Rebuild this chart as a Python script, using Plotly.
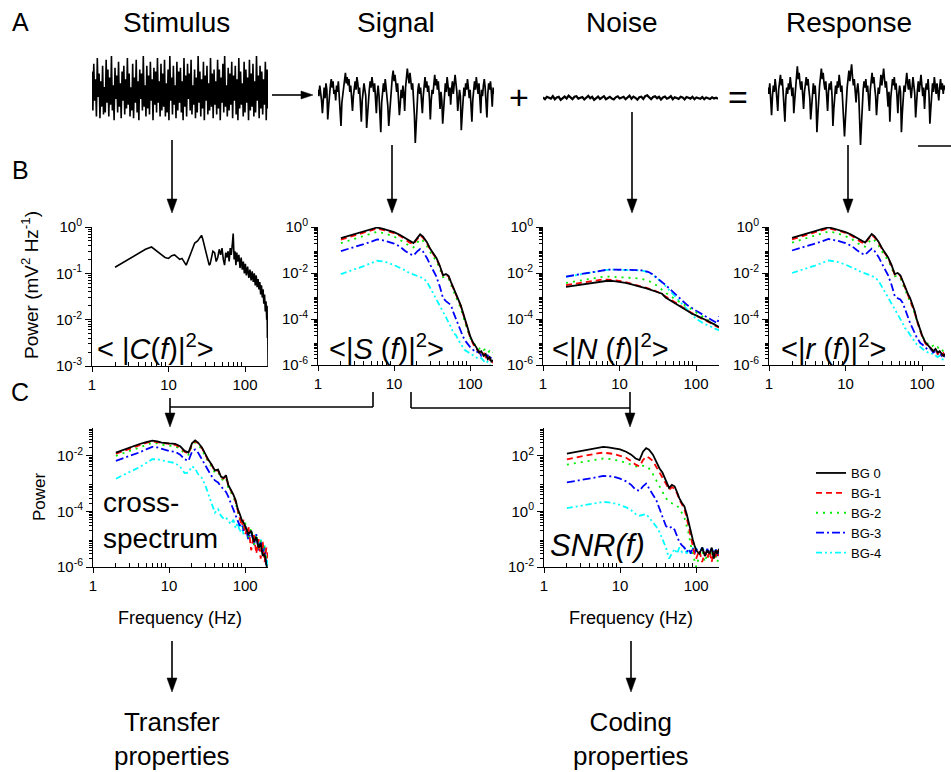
import plotly.graph_objects as go

W, H = 951, 772
def X(p): return p / W
def Y(p): return 1 - p / H

# ---------------- DATA ----------------
LABELS = ["BG 0", "BG-1", "BG-2", "BG-3", "BG-4"]

STIMULUS_TRACE = [
 0.55,-0.45,0.75,-0.2,0.35,-0.6,0.9,-0.1,0.5,-0.65,0.3,-0.35,0.7,-0.55,0.15,-0.5,0.85,-0.25,0.6,-0.6,
 0.4,-0.3,0.95,-0.45,0.2,-0.7,0.65,-0.15,0.45,-0.5,0.8,-0.35,0.25,-0.65,0.55,-0.2,0.7,-0.55,0.35,-0.4,
 0.9,-0.3,0.5,-0.6,0.15,-0.45,0.75,-0.65,0.4,-0.25,0.85,-0.5,0.3,-0.7,0.6,-0.15,0.5,-0.45,0.95,-0.35,
 0.2,-0.6,0.7,-0.4,0.45,-0.55,0.8,-0.2,0.35,-0.7,0.65,-0.3,0.55,-0.5,0.9,-0.25,0.3,-0.6,0.75,-0.45,
 0.5,-0.35,0.85,-0.6,0.25,-0.5,0.6,-0.7,0.95,-0.2,0.4,-0.55,0.7,-0.3,0.2,-0.65,0.8,-0.45,0.55,-0.25,
 0.65,-0.5,0.3,-0.7,0.9,-0.35,0.45,-0.6,0.75,-0.15,0.5,-0.45,0.85,-0.55,0.2,-0.3,0.6,-0.65,0.4,-0.5,
 0.95,-0.25,0.55,-0.6,0.35,-0.4,0.8,-0.7,0.45,-0.2,0.7,-0.55,0.25,-0.45,0.9,-0.35,0.5,-0.65,0.6,-0.3,
 0.3,-0.55,0.85,-0.4,0.6,-0.7,0.4,-0.25,0.75,-0.5,0.95,-0.35,0.2,-0.6,0.65,-0.45,0.5,-0.3,0.8,-0.65,
 0.45,-0.2,0.7,-0.55,0.35,-0.7,0.9,-0.4,0.55,-0.3,0.25,-0.6,0.8,-0.5,0.6,-0.25,0.4,-0.7,0.85,-0.45,
 0.5,-0.35,0.75,-0.6,0.3,-0.5,0.95,-0.2,0.45,-0.65,0.7,-0.4,0.55,-0.55,0.35,-0.3,0.8,-0.7,0.6,-0.4]

SIGNAL_TRACE = [
 0.30,0.15,0.40,0.25,0.05,-0.25,0.20,0.35,0.10,0.45,0.30,-0.40,-0.10,0.25,0.40,0.55,0.35,0.50,0.20,0.30,
 0.05,0.40,0.25,0.50,0.15,-0.30,-0.55,0.00,0.20,0.35,0.55,0.70,0.45,0.60,0.40,0.55,0.25,0.40,0.10,-0.20,
 0.15,0.35,0.50,0.30,0.60,0.45,0.20,0.35,-0.15,-0.45,0.05,0.25,0.45,0.30,0.15,-0.60,-0.20,0.10,0.30,0.50,
 0.35,0.60,0.40,0.25,0.45,0.10,-0.25,0.20,0.40,0.15,-0.35,-0.70,0.00,0.30,0.45,0.25,0.55,0.35,0.15,-0.10,
 -0.55,-0.25,0.20,0.40,0.60,0.75,0.50,0.65,0.40,0.25,0.45,0.15,-0.30,-0.05,0.30,0.10,0.40,0.20,-0.20,0.35,
 0.55,0.80,0.60,0.45,0.70,0.50,0.30,0.45,0.15,-0.30,-0.95,-0.50,0.10,0.30,0.45,0.20,0.35,0.05,-0.25,0.15,
 0.40,0.60,0.35,0.50,0.25,0.40,0.10,-0.40,0.05,0.30,0.20,0.45,0.65,0.40,0.55,0.30,0.50,0.20,-0.15,0.25,
 0.05,-0.50,-0.20,0.30,0.45,0.25,0.60,0.40,0.15,0.35,-0.05,0.30,0.50,0.20,0.40,0.65,0.45,0.25,-0.20,0.10,
 0.30,0.15,-0.65,-0.30,0.20,0.35,0.15,0.45,0.30,0.55,0.35,0.10,0.30,-0.10,-0.45,0.05,0.35,0.50,0.30,0.60,
 0.40,0.20,0.45,0.10,-0.25,0.30,0.15,0.40,0.55,0.35,0.10,-0.35,0.20,0.45,0.30,0.50,0.25,-0.10,0.35,0.20]

NOISE_TRACE = [
 0.05,-0.1,0.1,0.0,-0.05,0.15,-0.1,0.05,0.1,-0.15,0.0,0.12,-0.05,0.2,0.05,-0.1,0.1,0.15,-0.05,0.0,
 0.08,-0.12,0.05,0.18,-0.02,0.1,-0.15,0.0,0.12,-0.08,0.04,0.15,-0.1,0.02,0.1,-0.05,-0.12,0.06,0.14,-0.04,
 0.0,0.1,-0.1,0.08,0.2,-0.06,0.12,0.02,-0.14,0.06,0.1,-0.08,0.16,0.22,0.04,-0.1,0.08,0.14,-0.02,0.1,
 -0.12,0.05,0.12,-0.06,0.02,0.15,-0.1,0.06,0.0,-0.08,0.1,0.04,-0.12,0.08,0.02,-0.05,0.1,-0.1,0.05,0.0,
 -0.06,0.08,-0.1,0.04,0.0,-0.08,0.06,-0.04,0.02,-0.06]

RESPONSE_TRACE = [
 0.35,0.20,0.45,0.10,-0.30,0.15,0.40,0.25,0.55,0.35,0.10,-0.20,0.30,0.50,0.65,0.40,0.55,0.25,-0.05,-0.45,
 0.10,0.35,0.20,0.45,0.30,0.60,0.40,0.15,0.35,-0.25,0.05,0.40,0.65,0.85,0.55,0.70,0.45,0.30,0.50,0.20,
 -0.15,0.25,0.45,0.60,0.40,0.55,0.30,0.10,-0.40,-0.10,0.30,0.45,0.20,0.40,0.05,-0.70,-0.30,0.15,0.40,0.60,
 0.80,0.55,0.70,0.45,0.30,0.50,0.20,-0.20,0.25,0.45,0.30,0.50,0.15,-0.55,-0.15,0.25,0.40,0.20,0.50,0.35,
 0.65,0.45,0.25,0.40,0.05,-0.35,-0.80,-0.40,0.15,0.35,0.55,0.75,0.50,0.65,0.90,0.60,0.40,0.55,0.25,0.00,
 0.30,0.45,0.20,-0.30,-1.00,-0.55,0.05,0.30,0.50,0.35,0.55,0.25,0.40,0.10,-0.20,0.30,0.50,0.70,0.45,0.60,
 0.35,0.15,-0.30,0.10,0.35,0.20,0.45,0.65,0.40,0.55,0.80,0.55,0.35,0.50,0.20,-0.10,0.25,-0.45,0.10,0.35,
 0.55,0.40,0.60,0.30,0.45,0.15,-0.25,0.20,0.40,0.25,-0.70,-0.25,0.20,0.40,0.25,0.50,0.70,0.45,0.30,0.55,
 0.35,0.10,0.35,0.60,0.40,0.20,-0.35,0.05,0.30,0.50,0.25,0.45,0.65,0.40,0.15,0.35,-0.15,0.25,0.45,0.30,
 0.55,0.20,-0.50,-0.15,0.30,0.45,0.25,0.60,0.40,0.20,0.45,0.25,0.05,0.35,0.55,0.30,0.45,0.20,0.40,0.30]

STIM_FREQ = [2,3,4,5,6,7,8,9,10,11,12,13,14,15,16,17,18,20,22,24,26,27,28,30,32,34,35,37,38,40,
             42,44,46,48,50,52,54,56,58,60,62,64,66,68,70,72,74,76,78,80,83,86,89,92,95,98,101,104,
             108,112,116,120,124,128,132,136,140,144,148,152,156,160,164,168,172,176,180,184,188,
             192,194,196,198,200]
STIM_POWER = [0.135,0.2,0.27,0.33,0.37,0.3,0.25,0.22,0.21,0.24,0.25,0.22,0.2,0.21,0.17,0.15,0.19,
              0.3,0.45,0.5,0.62,0.66,0.55,0.35,0.2,0.15,0.16,0.25,0.3,0.28,0.18,0.22,0.33,0.25,
              0.35,0.2,0.15,0.28,0.22,0.3,0.18,0.35,0.25,0.4,0.72,0.2,0.3,0.15,0.28,0.18,0.25,0.13,
              0.22,0.12,0.18,0.1,0.16,0.09,0.14,0.08,0.12,0.07,0.11,0.065,0.1,0.055,0.09,0.05,
              0.075,0.045,0.065,0.035,0.055,0.03,0.045,0.022,0.035,0.015,0.025,0.01,0.02,0.004,
              0.008,0.0009]

FREQ = [2,3,4,5,6,7,8,10,12,14,16,18,20,22,24,27,30,33,36,40,44,48,52,56,60,65,70,75,80,85,90,95,
        100,110,120,130,140,150,160,170,180,190,200]

SIGNAL_BG0 = [0.33,0.5,0.65,0.8,0.95,0.85,0.75,0.6,0.45,0.32,0.24,0.2,0.32,0.48,0.38,0.22,0.11,0.07,
              0.045,0.02,0.008,0.009,0.0075,0.004,0.0022,0.0012,7e-4,4e-4,2e-4,9e-5,5e-5,3e-5,1.8e-5,
              9e-6,6e-6,3.5e-6,4e-6,2.5e-6,3e-6,1.8e-6,2.2e-6,1.4e-6,1.6e-6]
SIGNAL_BG1 = [0.28,0.44,0.58,0.72,0.85,0.78,0.68,0.54,0.41,0.29,0.21,0.18,0.29,0.44,0.34,0.2,0.1,
              0.065,0.042,0.019,0.0078,0.0085,0.007,0.0038,0.0021,0.0011,6.5e-4,3.8e-4,1.9e-4,8.5e-5,
              4.5e-5,2.8e-5,1.6e-5,8e-6,5e-6,4e-6,3e-6,3.5e-6,2.2e-6,2.8e-6,1.6e-6,2e-6,1.2e-6]
SIGNAL_BG2 = [0.2,0.3,0.4,0.5,0.62,0.56,0.5,0.38,0.28,0.2,0.15,0.13,0.2,0.3,0.25,0.15,0.08,0.05,0.032,
              0.015,0.0065,0.007,0.0055,0.003,0.0016,9e-4,5e-4,3e-4,1.5e-4,7e-5,4e-5,2.5e-5,1.5e-5,
              9e-6,7e-6,5e-6,6e-6,4.5e-6,5e-6,3.5e-6,4e-6,3e-6,3.5e-6]
SIGNAL_BG3 = [0.09,0.13,0.18,0.23,0.29,0.27,0.24,0.19,0.14,0.09,0.068,0.058,0.085,0.11,0.085,0.045,
              0.022,0.012,0.007,0.0025,8e-4,6e-4,5e-4,4e-4,2e-4,1e-4,5e-5,3e-5,1.8e-5,1.2e-5,9e-6,
              7e-6,6e-6,4.5e-6,3.5e-6,4e-6,2.5e-6,3e-6,2.2e-6,2.6e-6,1.8e-6,2.2e-6,1.5e-6]
SIGNAL_BG4 = [0.009,0.014,0.02,0.027,0.034,0.032,0.029,0.022,0.017,0.013,0.01,0.0085,0.0078,0.0068,
              0.006,0.0042,0.0022,0.0013,8e-4,4e-4,2e-4,1.2e-4,7e-5,4.5e-5,2.5e-5,2e-5,1.2e-5,8e-6,
              6e-6,4.5e-6,4e-6,3.5e-6,3.2e-6,2.5e-6,2.2e-6,1.8e-6,2e-6,1.5e-6,1.2e-6,1.4e-6,1e-6,
              9e-7,8e-7]

NOISE_BG0 = [0.0025,0.0031,0.0036,0.0041,0.0045,0.0046,0.0045,0.0041,0.0037,0.0033,0.003,0.0027,
             0.0024,0.0022,0.002,0.0018,0.0016,0.0014,0.00125,8.5e-4,7e-4,5.8e-4,5e-4,4.2e-4,3.6e-4,
             3.1e-4,2.7e-4,2.3e-4,2e-4,1.8e-4,1.65e-4,1.55e-4,1.45e-4,1.25e-4,1.1e-4,9.5e-5,8.5e-5,
             7.5e-5,6.5e-5,6e-5,5.5e-5,5e-5,4.5e-5]
NOISE_BG1 = [0.003,0.0037,0.0043,0.0048,0.0052,0.0052,0.005,0.0045,0.004,0.0035,0.0031,0.0028,0.0025,
             0.0023,0.0021,0.0019,0.0016,0.0014,0.0012,9.5e-4,8e-4,6.8e-4,5.8e-4,5e-4,4.2e-4,3.4e-4,
             2.9e-4,2.5e-4,2.2e-4,1.9e-4,1.7e-4,1.55e-4,1.4e-4,1.2e-4,1.05e-4,9e-5,8e-5,7e-5,6.2e-5,
             5.6e-5,5e-5,4.6e-5,4.2e-5]
NOISE_BG2 = [0.0037,0.0047,0.0056,0.0063,0.0068,0.007,0.0069,0.0066,0.0064,0.0062,0.006,0.0058,0.0055,
             0.005,0.0045,0.0038,0.003,0.0024,0.0019,0.0014,0.0011,9e-4,7.5e-4,6.5e-4,5.6e-4,4.8e-4,
             4.2e-4,3.6e-4,3.1e-4,2.7e-4,2.4e-4,2.1e-4,1.9e-4,1.6e-4,1.3e-4,1.1e-4,9.5e-5,8e-5,7e-5,
             6e-5,5.5e-5,5e-5,4.5e-5]
NOISE_BG3 = [0.007,0.0088,0.0105,0.012,0.0132,0.014,0.0142,0.0142,0.014,0.0138,0.0135,0.0132,0.013,
             0.0122,0.011,0.0088,0.0068,0.0052,0.004,0.003,0.0022,0.0017,0.0013,0.001,8e-4,6.4e-4,
             5.2e-4,4.3e-4,3.7e-4,3.2e-4,2.8e-4,2.5e-4,2.3e-4,1.9e-4,1.6e-4,1.3e-4,1.1e-4,1e-4,9e-5,
             8e-5,7e-5,6.5e-5,1.3e-4]
NOISE_BG4 = [0.0068,0.0085,0.0102,0.0117,0.013,0.0138,0.014,0.014,0.0138,0.0135,0.0132,0.013,0.0126,
             0.0118,0.0105,0.0085,0.0065,0.005,0.0038,0.0027,0.0019,0.0014,0.001,7.5e-4,6e-4,4.5e-4,
             3.5e-4,2.8e-4,2.2e-4,1.8e-4,1.5e-4,1.2e-4,1e-4,8.5e-5,7e-5,6e-5,5.5e-5,5e-5,4.5e-5,4e-5,
             3.8e-5,3.5e-5,3.2e-5]

RESPONSE_BG0 = [0.34,0.52,0.66,0.82,0.96,0.86,0.76,0.6,0.46,0.33,0.25,0.21,0.33,0.49,0.39,0.23,0.12,
                0.075,0.048,0.022,0.009,0.01,0.008,0.0045,0.0024,0.0013,8e-4,4.5e-4,2.2e-4,1e-4,
                5.5e-5,3.5e-5,2e-5,1e-5,7e-6,5e-6,4e-6,5e-6,3.5e-6,4e-6,3e-6,2.5e-6,3e-6]
RESPONSE_BG1 = [0.29,0.45,0.6,0.74,0.87,0.8,0.7,0.55,0.42,0.3,0.22,0.19,0.3,0.45,0.35,0.21,0.11,0.07,
                0.045,0.02,0.0085,0.009,0.0075,0.0042,0.0023,0.0012,7e-4,4e-4,2e-4,9e-5,5e-5,3e-5,
                1.8e-5,9e-6,6e-6,5.5e-6,4e-6,4.5e-6,3e-6,3.8e-6,2.5e-6,3.2e-6,2.2e-6]
RESPONSE_BG2 = [0.21,0.31,0.41,0.52,0.64,0.58,0.52,0.4,0.3,0.21,0.16,0.14,0.21,0.31,0.26,0.16,0.085,
                0.055,0.035,0.017,0.0072,0.0075,0.006,0.0033,0.0018,0.001,5.5e-4,3.3e-4,1.7e-4,8e-5,
                4.5e-5,2.8e-5,1.8e-5,1.1e-5,8e-6,6e-6,7e-6,5.5e-6,6e-6,4.5e-6,5e-6,3.8e-6,4.2e-6]
RESPONSE_BG3 = [0.095,0.14,0.19,0.24,0.3,0.28,0.25,0.2,0.15,0.1,0.072,0.062,0.09,0.115,0.09,0.05,
                0.025,0.014,0.008,0.003,0.001,8e-4,7e-4,5e-4,2.5e-4,1.3e-4,6.5e-5,4e-5,2.4e-5,1.6e-5,
                1.2e-5,9e-6,8e-6,6e-6,4.5e-6,5e-6,3.5e-6,4e-6,3e-6,3.5e-6,2.5e-6,3e-6,2.2e-6]
RESPONSE_BG4 = [0.01,0.015,0.021,0.028,0.035,0.033,0.03,0.023,0.018,0.014,0.011,0.0092,0.0085,0.0075,
                0.0065,0.0046,0.0025,0.0015,9.5e-4,5e-4,2.6e-4,1.6e-4,1e-4,6.5e-5,4e-5,3e-5,2e-5,
                1.4e-5,1e-5,8e-6,7e-6,6e-6,5e-6,4e-6,3.5e-6,3e-6,3.2e-6,2.6e-6,2.2e-6,2.5e-6,1.9e-6,
                1.6e-6,1.5e-6]

CROSS_BG0 = [0.013,0.02,0.026,0.031,0.035,0.033,0.03,0.028,0.027,0.022,0.015,0.013,0.028,0.036,0.03,
             0.02,0.011,0.007,0.005,0.003,0.0032,0.0018,0.0016,0.002,9e-4,6e-4,4e-4,2.5e-4,1.2e-4,
             8e-5,5e-5,4e-5,3e-5,1.5e-5,2e-5,8e-6,1.2e-5,5e-6,7e-6,2.5e-6,3e-6,1.2e-6,6e-7]
CROSS_BG1 = [0.012,0.018,0.024,0.029,0.033,0.031,0.028,0.026,0.025,0.02,0.014,0.012,0.026,0.034,0.028,
             0.019,0.01,0.0065,0.0048,0.0028,0.003,0.0017,0.0015,0.0019,8.5e-4,5.5e-4,3.8e-4,2.2e-4,
             1.1e-4,6e-5,3e-5,5e-5,1.5e-5,3e-5,4e-6,1.5e-5,3e-6,1e-5,2e-6,8e-6,1.5e-6,5e-6,2e-6]
CROSS_BG2 = [0.01,0.015,0.02,0.025,0.029,0.028,0.025,0.023,0.022,0.018,0.012,0.011,0.023,0.03,0.025,
             0.017,0.009,0.006,0.0042,0.0025,0.0027,0.0015,0.0013,0.0016,7e-4,5e-4,3.3e-4,2e-4,1e-4,
             5e-5,6e-5,2.5e-5,4e-5,1.2e-5,2.5e-5,6e-6,1.5e-5,4e-6,9e-6,3e-6,6e-6,2e-6,1.5e-6]
CROSS_BG3 = [0.0066,0.0095,0.013,0.017,0.021,0.02,0.018,0.015,0.014,0.011,0.0075,0.0066,0.014,0.017,
             0.013,0.0075,0.0045,0.0028,0.0019,0.0013,0.0011,8e-4,6e-4,5e-4,3.4e-4,2e-4,1.1e-4,7e-5,
             5e-5,3e-5,4.5e-5,2e-5,3e-5,1e-5,2e-5,6e-6,1.5e-5,4e-6,8e-6,3e-6,5e-6,1e-6,2.5e-7]
CROSS_BG4 = [0.0015,0.0025,0.0038,0.0055,0.0075,0.0075,0.0068,0.006,0.0055,0.004,0.0024,0.0025,0.0042,
             0.0035,0.0022,0.0016,8.5e-4,4e-4,2e-4,9e-5,1.2e-4,7e-5,5.5e-5,6e-5,4.5e-5,3.5e-5,5e-5,
             2.5e-5,4e-5,1.8e-5,3e-5,1.5e-5,2.5e-5,1e-5,2e-5,7e-6,1.5e-5,5e-6,1e-5,3e-6,6e-6,2e-6,1e-6]

SNR_BG0 = [120,150,175,195,210,200,190,170,140,110,80,70,140,190,165,110,60,35,25,12,7,9,8,5,3,2,1.5,
           0.8,0.35,0.18,0.1,0.06,0.04,0.03,0.05,0.025,0.04,0.03,0.05,0.02,0.04,0.03,0.045]
SNR_BG1 = [75,95,110,122,130,125,118,100,85,65,48,42,70,95,85,65,40,27,18,10,6,7.5,6.5,4.5,2.7,1.8,1.2,
           0.6,0.25,0.1,0.05,0.03,0.02,0.04,0.015,0.035,0.02,0.04,0.015,0.035,0.02,0.04,0.025]
SNR_BG2 = [48,58,68,75,80,78,74,65,56,48,42,40,44,42,35,22,13,8,5,3,2.2,2,1.8,1.6,1.3,0.9,0.6,0.3,0.15,
           0.06,0.03,0.015,0.01,0.025,0.04,0.015,0.03,0.02,0.04,0.02,0.03,0.015,0.03]
SNR_BG3 = [11,13,15,17,19,19,18,15,12,9,6,5.5,8,10,7,4,2.5,1.3,0.7,0.3,0.25,0.28,0.22,0.12,0.08,0.06,
           0.05,0.035,0.045,0.03,0.05,0.03,0.045,0.03,0.05,0.025,0.045,0.03,0.05,0.03,0.045,0.025,0.04]
SNR_BG4 = [1.3,1.6,1.9,2.1,2.2,2.1,2.0,1.7,1.4,1.1,0.8,0.7,0.75,0.8,0.6,0.4,0.28,0.18,0.1,0.05,0.02,
           0.03,0.045,0.03,0.05,0.035,0.05,0.03,0.045,0.03,0.05,0.035,0.045,0.03,0.05,0.035,0.04,0.03,
           0.045,0.03,0.04,0.035,0.04]

COLORS = ["#000000", "#FF0000", "#00EE00", "#0000FF", "#00FFFF"]
DASHES = ["solid", "6px,4px", "2px,5px", "8px,3px,2px,3px", "6px,3px,2px,3px,2px,3px"]

FONT = "Liberation Sans, Arial, sans-serif"

fig = go.Figure()
layout = {}

# ---------------- top time traces ----------------
top_specs = [
    (1, STIMULUS_TRACE, (92, 268), (54, 132), 1.6),
    (2, SIGNAL_TRACE, (318, 494), (60, 145), 1.7),
    (3, NOISE_TRACE, (543, 718), (86, 110), 2.2),
    (4, RESPONSE_TRACE, (768, 945), (60, 145), 1.7),
]
for n, vals, (x0, x1), (y0, y1), lw in top_specs:
    fig.add_trace(go.Scatter(x=list(range(len(vals))), y=vals, mode="lines",
                             line=dict(color="black", width=lw), showlegend=False,
                             xaxis=f"x{n}", yaxis=f"y{n}", hoverinfo="skip"))
    layout[f"xaxis{n}"] = dict(domain=[X(x0), X(x1)], range=[0, len(vals) - 1], visible=False,
                               anchor=f"y{n}", automargin=False)
    layout[f"yaxis{n}"] = dict(domain=[Y(y1), Y(y0)], range=[-1, 1], visible=False, anchor=f"x{n}",
                               automargin=False)

def minor_vals(lo, hi):
    return [m * 10 ** e for e in range(lo, hi) for m in range(2, 10)]

def sup(e):
    return f"10<sup>{e}</sup>"

def log_axes(n, xd, yd, yrange, ytickexp):
    layout[f"xaxis{n}"] = dict(
        type="log", domain=[X(xd[0]), X(xd[1])], range=[0, 2.3], anchor=f"y{n}", automargin=False,
        showline=True, linecolor="black", linewidth=1, showgrid=False, zeroline=False,
        ticks="outside", ticklen=5, tickcolor="black", tickmode="array",
        tickvals=[1, 10, 100], ticktext=["1", "10", "100"],
        tickfont=dict(size=15, color="black", family=FONT),
        minor=dict(tickmode="array", tickvals=minor_vals(0, 3), ticks="inside", ticklen=4,
                   tickcolor="black", showgrid=False))
    layout[f"yaxis{n}"] = dict(
        type="log", domain=[Y(yd[1]), Y(yd[0])], range=yrange, anchor=f"x{n}", automargin=False,
        showline=True, linecolor="black", linewidth=1, showgrid=False, zeroline=False,
        ticks="outside", ticklen=6, tickcolor="black", tickmode="array",
        tickvals=[10 ** e for e in ytickexp], ticktext=[sup(e) for e in ytickexp],
        tickfont=dict(size=15, color="black", family=FONT),
        minor=dict(tickmode="array", tickvals=minor_vals(yrange[0], yrange[1]), ticks="outside",
                   ticklen=3, tickcolor="black", showgrid=False))

# B panels
log_axes(5, (92, 268), (227, 366), [-3, 0], [0, -1, -2, -3])
log_axes(6, (318, 493), (227, 365), [-6, 0], [0, -2, -4, -6])
log_axes(7, (543, 719), (227, 365), [-6, 0], [0, -2, -4, -6])
log_axes(8, (769, 945), (227, 365), [-6, 0], [0, -2, -4, -6])
# C panels
log_axes(9, (93, 268), (428, 567), [-6, -1], [-2, -4, -6])
log_axes(10, (544, 719), (428, 567), [-2, 3], [2, 0, -2])

fig.add_trace(go.Scatter(x=STIM_FREQ, y=STIM_POWER, mode="lines",
                         line=dict(color="black", width=1.6), showlegend=False,
                         xaxis="x5", yaxis="y5", hoverinfo="skip"))

groups = [
    (6, [SIGNAL_BG0, SIGNAL_BG1, SIGNAL_BG2, SIGNAL_BG3, SIGNAL_BG4], False),
    (7, [NOISE_BG0, NOISE_BG1, NOISE_BG2, NOISE_BG3, NOISE_BG4], False),
    (8, [RESPONSE_BG0, RESPONSE_BG1, RESPONSE_BG2, RESPONSE_BG3, RESPONSE_BG4], False),
    (9, [CROSS_BG0, CROSS_BG1, CROSS_BG2, CROSS_BG3, CROSS_BG4], False),
    (10, [SNR_BG0, SNR_BG1, SNR_BG2, SNR_BG3, SNR_BG4], True),
]
for n, series, leg in groups:
    for i in reversed(range(5)):
        fig.add_trace(go.Scatter(x=FREQ, y=series[i], mode="lines", name=LABELS[i],
                                 line=dict(color=COLORS[i], width=1.8, dash=DASHES[i]),
                                 showlegend=leg, legendrank=i + 1,
                                 xaxis=f"x{n}", yaxis=f"y{n}", hoverinfo="skip"))

# ---------------- annotations ----------------
ann = []
def text(x, y, s, size, **kw):
    d = dict(x=X(x), y=Y(y), xref="paper", yref="paper", text=s, showarrow=False,
             font=dict(size=size, color="black", family=FONT), xanchor="center", yanchor="middle")
    d.update(kw)
    ann.append(d)

text(20, 22, "A", 25)
text(20, 170, "B", 25)
text(20, 392, "C", 25)
text(176, 23, "Stimulus", 28)
text(396, 23, "Signal", 28)
text(622, 23, "Noise", 28)
text(849, 23, "Response", 28)
text(519, 97, "+", 34)
text(738, 97, "=", 34)
text(30, 285, "Power (mV<sup>2</sup> Hz<sup>-1</sup>)", 19, textangle=-90)
text(40, 497, "Power", 17, textangle=-90)
text(180, 618, "Frequency (Hz)", 18)
text(631, 618, "Frequency (Hz)", 18)
text(155, 347, "&lt; |<i>C</i>(<i>f</i>)|<sup>2</sup>&gt;", 29)
text(386, 347, "&lt;|<i>S</i> (<i>f</i>)|<sup>2</sup>&gt;", 29)
text(610, 347, "&lt;|<i>N</i> (<i>f</i>)|<sup>2</sup>&gt;", 29)
text(833, 347, "&lt;|<i>r</i> (<i>f</i>)|<sup>2</sup>&gt;", 29)
text(101, 520, "cross-<br>spectrum", 28, xanchor="left", align="left")
text(597, 545, "<i>SNR(f)</i>", 31)
text(172, 739, "Transfer<br>properties", 26)
text(631, 739, "Coding<br>properties", 26)

# ---------------- lines and arrows ----------------
shapes = []
def line(x0, y0, x1, y1, w=1.6):
    shapes.append(dict(type="line", xref="paper", yref="paper", x0=X(x0), y0=Y(y0), x1=X(x1),
                       y1=Y(y1), line=dict(color="black", width=w)))

def arrow_down(x, y0, y1, hl=14, hw=5):
    line(x, y0, x, y1 - hl + 1)
    shapes.append(dict(type="path", xref="paper", yref="paper",
                       path=f"M{X(x - hw)},{Y(y1 - hl)} L{X(x + hw)},{Y(y1 - hl)} L{X(x)},{Y(y1)} Z",
                       fillcolor="black", line=dict(color="black", width=0.5)))

def arrow_right(x0, x1, y, hl=12, hw=4):
    line(x0, y, x1 - hl + 1, y)
    shapes.append(dict(type="path", xref="paper", yref="paper",
                       path=f"M{X(x1 - hl)},{Y(y - hw)} L{X(x1 - hl)},{Y(y + hw)} L{X(x1)},{Y(y)} Z",
                       fillcolor="black", line=dict(color="black", width=0.5)))

arrow_right(272, 313, 95)
arrow_down(172, 140, 213)
arrow_down(392, 145, 213)
arrow_down(632, 112, 213)
arrow_down(848, 145, 213)
# scale bar
line(918, 146, 951, 146)
# connectors B -> C
line(373, 392, 373, 407)
line(170, 407, 373, 407)
arrow_down(170, 398, 427)
line(411, 392, 411, 408)
line(411, 408, 630, 408)
arrow_down(630, 392, 427)
# bottom arrows
arrow_down(172, 641, 692)
arrow_down(631, 641, 692)

layout.update(
    width=W, height=H, autosize=False,
    margin=dict(l=0, r=0, t=0, b=0, pad=0, autoexpand=False),
    paper_bgcolor="white", plot_bgcolor="white",
    font=dict(family=FONT, color="black"),
    annotations=ann, shapes=shapes,
    legend=dict(x=X(811), y=Y(458), xanchor="left", yanchor="top",
                font=dict(size=13, color="black", family=FONT),
                bgcolor="rgba(0,0,0,0)", tracegroupgap=0, itemwidth=30),
)
fig.update_layout(**layout)
fig.write_html("out.html")
